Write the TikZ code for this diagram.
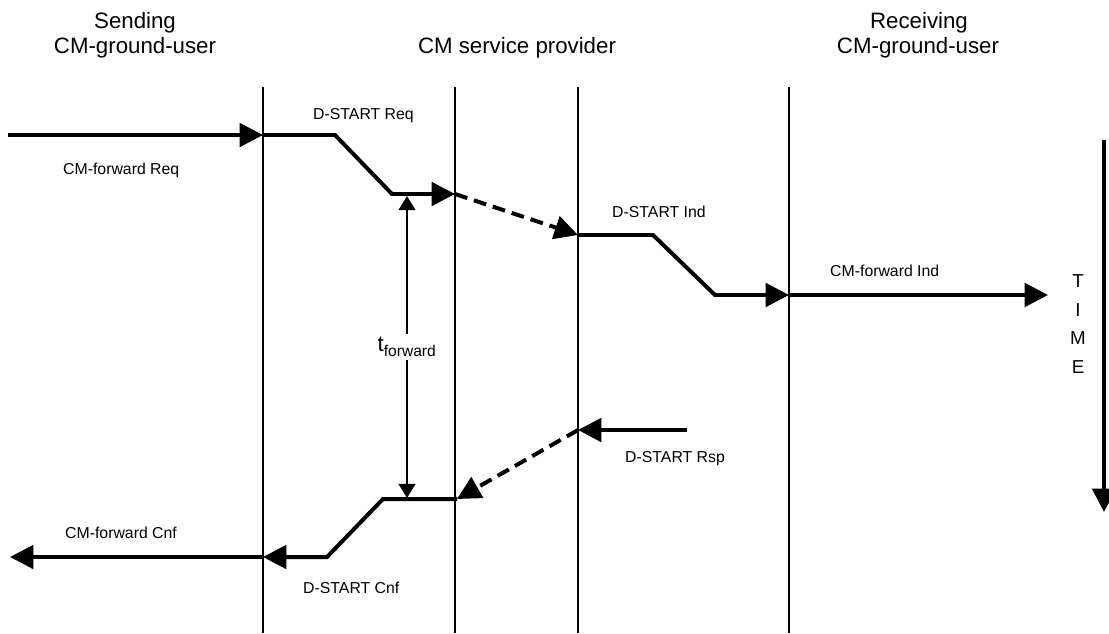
\documentclass[tikz,border=0pt]{standalone}
\usepackage{fontspec}
\setmainfont{Liberation Sans}
\usetikzlibrary{arrows.meta}

\begin{document}
\begin{tikzpicture}[
    x=0.03cm,
    y=-0.03cm,
    every node/.style={font=\fontsize{13.5}{16}\selectfont, inner sep=0pt},
    header/.style={font=\fontsize{19}{23}\selectfont, anchor=base},
    label/.style={anchor=base west},
    lifeline/.style={line width=2.2pt},
    signal/.style={line width=3.4pt, -{Triangle[length=20pt,width=20pt]}},
    link/.style={signal, dash pattern=on 11pt off 6pt},
    span/.style={line width=2.3pt, {Triangle[length=12pt,width=14pt]}-{Triangle[length=12pt,width=14pt]}}
]

    \useasboundingbox (0,0) rectangle (1109,633);

    \node[header] (sendtop) at (135,28) {Sending};
    \node[header] (sendbot) at (135,53) {CM-ground-user};
    \node[header] (prov) at (517,53) {CM service provider};
    \node[header] (recvtop) at (919,28) {Receiving};
    \node[header] (recvbot) at (918,53) {CM-ground-user};

    \foreach \name/\x in {a/263, b/455, c/578, d/789} {
        \coordinate (\name top) at (\x,87);
        \coordinate (\name bot) at (\x,633);
        \draw[lifeline] (\name top) -- (\name bot);
    }

    \coordinate (reqin) at (8,135);
    \coordinate (reqa) at (263,135);
    \coordinate (reqk) at (335,135);
    \coordinate (reql) at (392,194);
    \coordinate (reqb) at (455,194);
    \coordinate (indc) at (578,235);
    \coordinate (indk) at (653,235);
    \coordinate (indl) at (715,295);
    \coordinate (indd) at (789,295);
    \coordinate (indout) at (1048,295);

    \draw[signal] (reqin) -- (reqa);
    \draw[signal] (reqa) -- (reqk) -- (reql) -- (reqb);
    \draw[link] (reqb) -- (indc);
    \draw[signal] (indc) -- (indk) -- (indl) -- (indd);
    \draw[signal] (indd) -- (indout);

    \node[label] (fwdreq) at (63,174) {CM-forward Req};
    \node[label] (startreq) at (313,119) {D-START Req};
    \node[label] (startind) at (612,217) {D-START Ind};
    \node[label] (fwdind) at (830,276) {CM-forward Ind};

    \coordinate (rspin) at (687,430);
    \coordinate (rspc) at (578,430);
    \coordinate (cnfb) at (457,499);
    \coordinate (cnfk) at (383,499);
    \coordinate (cnfl) at (327,557);
    \coordinate (cnfa) at (263,557);
    \coordinate (cnfout) at (10,557);

    \draw[signal] (rspin) -- (rspc);
    \draw[link] (rspc) -- (cnfb);
    \draw[signal] (cnfb) -- (cnfk) -- (cnfl) -- (cnfa);
    \draw[signal] (cnfa) -- (cnfout);

    \node[label] (startrsp) at (625,462) {D-START Rsp};
    \node[label] (fwdcnf) at (65,538) {CM-forward Cnf};
    \node[label] (startcnf) at (303,593) {D-START Cnf};

    \coordinate (tstart) at (407,196);
    \coordinate (tend) at (407,498);
    \draw[span] (tstart) -- node[fill=white, inner sep=3pt, font=\fontsize{19}{23}\selectfont] (tfwd) {t\textsubscript{forward}} (tend);

    \coordinate (timetop) at (1104,140);
    \coordinate (timebot) at (1104,512);
    \draw[signal] (timetop) -- (timebot);
    \node[font=\fontsize{16}{24.6}\selectfont, align=center] (timelbl) at (1078,324) {T\\I\\M\\E};

\end{tikzpicture}
\end{document}
